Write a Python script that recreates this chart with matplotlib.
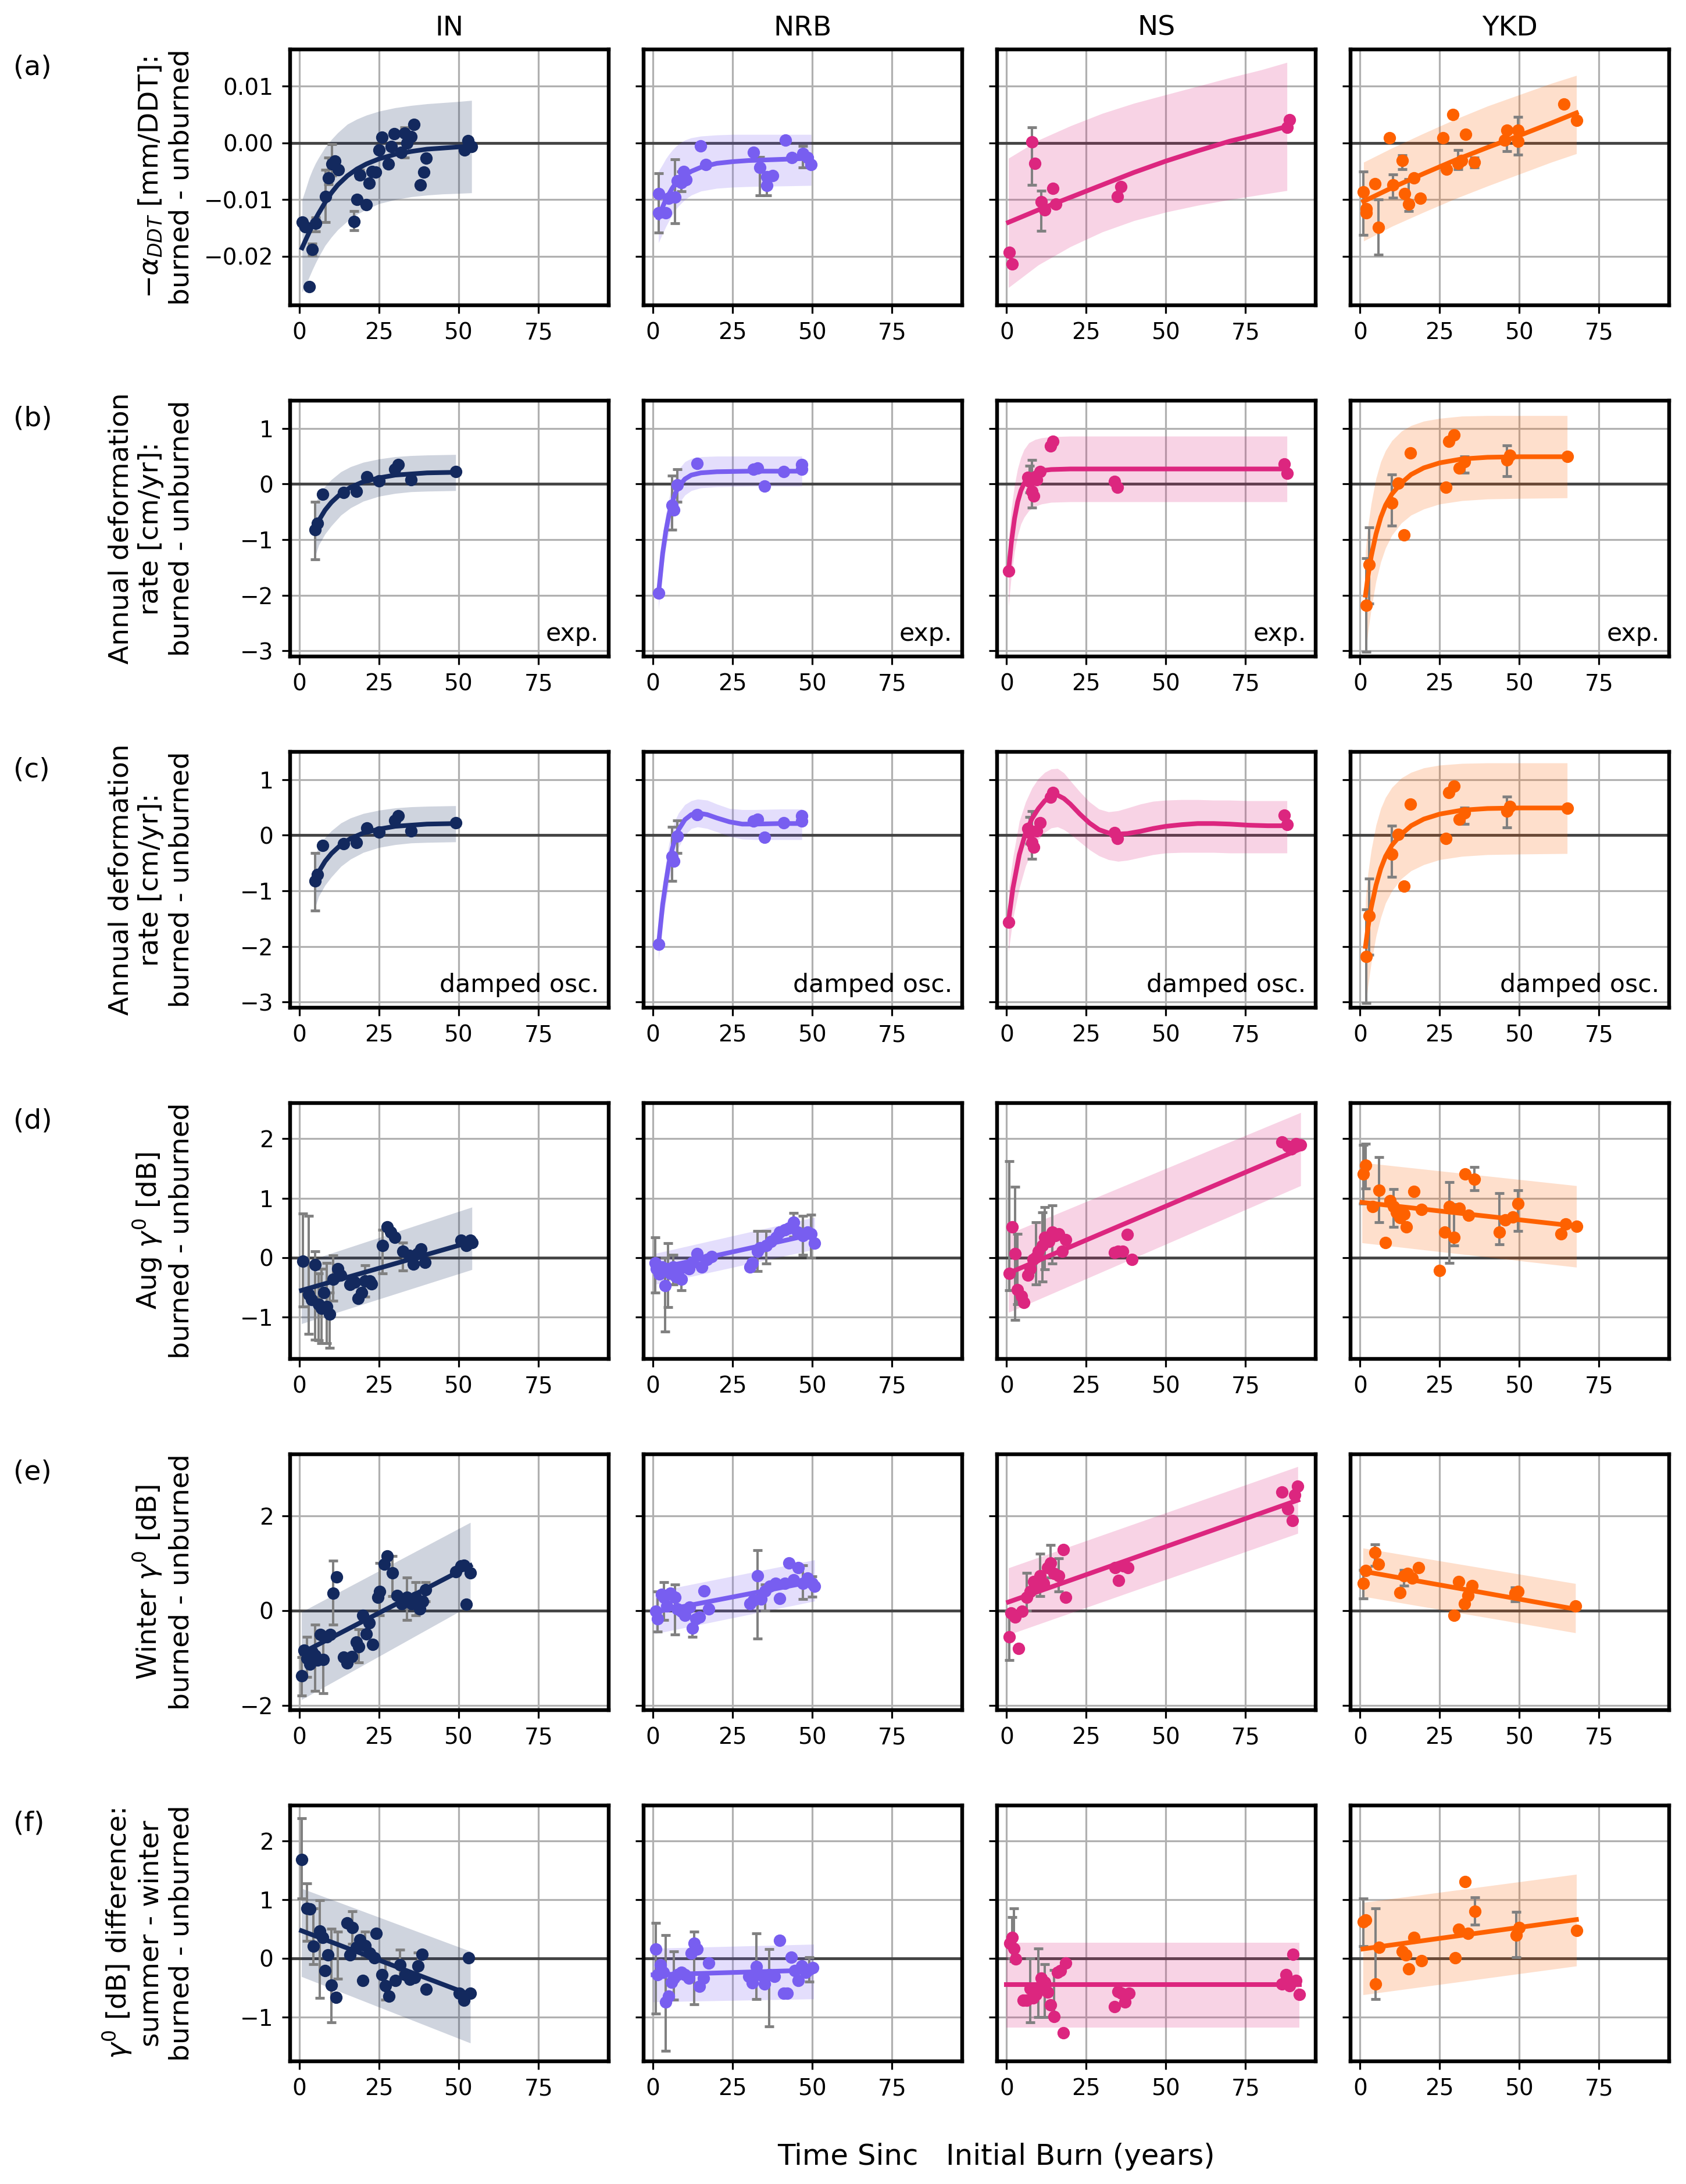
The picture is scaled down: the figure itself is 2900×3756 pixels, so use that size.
import numpy as np
import matplotlib.pyplot as plt
from matplotlib.transforms import blended_transform_factory

sites = ["IN", "NRB", "NS", "YKD"]
colors = {"IN": "#13295e", "NRB": "#785ef0", "NS": "#dc267f", "YKD": "#fe6100"}
rows = ["a", "b", "c", "d", "e", "f"]
ylabels = [r"$-\alpha_{DDT}$ [mm/DDT]:" + "\nburned - unburned",
           "Annual deformation\nrate [cm/yr]:\nburned - unburned",
           "Annual deformation\nrate [cm/yr]:\nburned - unburned",
           r"Aug $\gamma^0$ [dB]" + "\nburned - unburned",
           r"Winter $\gamma^0$ [dB]" + "\nburned - unburned",
           r"$\gamma^0$ [dB] difference:" + "\nsummer - winter\nburned - unburned"]
yticks = [[-0.02, -0.01, 0.0, 0.01], [-3, -2, -1, 0, 1], [-3, -2, -1, 0, 1],
          [-1, 0, 1, 2], [-2, 0, 2], [-1, 0, 1, 2]]
ylims = [(-0.0286, 0.0165), (-3.1, 1.5), (-3.1, 1.5), (-1.7, 2.6), (-2.1, 3.3), (-1.75, 2.6)]
notes = [None, "exp.", "damped osc.", None, None, None]
xlabel = "Time Sinc   Initial Burn (years)"

# ---- row (a): -alpha_DDT ----
a_IN_t = [0.8, 1.8, 3.1, 4.0, 5.0, 8.2, 9.1, 10.1, 11.0, 12.1, 17.1, 18.1, 19.0, 21.0, 21.9, 22.8, 23.8,
          25.0, 25.9, 27.9, 28.8, 29.7, 31.9, 32.9, 33.8, 34.9, 35.9, 37.9, 39.0, 39.7, 51.8, 52.8, 54.0]
a_IN_v = [-0.0140, -0.0148, -0.0253, -0.0188, -0.0142, -0.0095, -0.0062, -0.0037, -0.0032, -0.0047,
          -0.0139, -0.0100, -0.0057, -0.0109, -0.0071, -0.0050, -0.0051, -0.0013, 0.0010, -0.0037,
          -0.0006, 0.0016, -0.0017, 0.0017, 0.0000, 0.0011, 0.0033, -0.0074, -0.0051, -0.0027,
          -0.0013, 0.0004, -0.0006]
a_IN_err = [(4.0, -0.0198, -0.0178), (5.0, -0.0156, -0.0131), (8.2, -0.0140, -0.0047),
            (9.1, -0.0073, -0.0026), (10.1, -0.0058, -0.0002), (17.1, -0.0154, -0.0120),
            (19.0, -0.0063, -0.0047), (32.9, -0.0026, 0.0028)]
a_IN_ft = [0.8, 2, 3, 4, 5, 6, 8, 10, 12, 15, 18, 21, 25, 30, 35, 40, 45, 50, 54]
a_IN_fv = [-0.0185, -0.0170, -0.0158, -0.0146, -0.0134, -0.0124, -0.0105, -0.0088, -0.0074, -0.0058,
           -0.0046, -0.0037, -0.0028, -0.0020, -0.0015, -0.0011, -0.0009, -0.0007, -0.0006]
a_IN_hi = [-0.0100, -0.0080, -0.0062, -0.0048, -0.0036, -0.0026, -0.0008, 0.0006, 0.0018, 0.0033,
           0.0042, 0.0049, 0.0056, 0.0062, 0.0066, 0.0069, 0.0071, 0.0073, 0.0075]
a_IN_lo = [-0.0263, -0.0250, -0.0237, -0.0224, -0.0212, -0.0201, -0.0181, -0.0166, -0.0153, -0.0138,
           -0.0126, -0.0117, -0.0107, -0.0100, -0.0095, -0.0092, -0.0090, -0.0089, -0.0088]

a_NRB_t = [1.7, 1.7, 4.0, 4.9, 6.9, 7.7, 8.9, 9.7, 10.3, 14.9, 16.6, 31.5, 33.5, 35.8, 35.8, 37.5,
           41.5, 43.6, 47.0, 48.4, 49.6]
a_NRB_v = [-0.0089, -0.0123, -0.0123, -0.0098, -0.0096, -0.0067, -0.0070, -0.0050, -0.0065, -0.0005,
           -0.0038, -0.0017, -0.0043, -0.0060, -0.0075, -0.0058, 0.0005, -0.0026, -0.0019, -0.0026,
           -0.0038]
a_NRB_err = [(1.7, -0.0158, -0.0053), (6.9, -0.0142, -0.0029), (8.9, -0.0085, -0.0050),
             (33.5, -0.0092, -0.0025), (35.8, -0.0092, -0.0060), (47.0, -0.0043, -0.0005)]
a_NRB_ft = [1.7, 3, 4, 5, 6, 7, 8, 10, 12, 15, 20, 25, 30, 40, 49.6]
a_NRB_fv = [-0.0132, -0.0113, -0.0100, -0.0090, -0.0080, -0.0072, -0.0066, -0.0057, -0.0050, -0.0043,
            -0.0036, -0.0033, -0.0031, -0.0029, -0.0027]
a_NRB_hi = [-0.0050, -0.0038, -0.0028, -0.0020, -0.0013, -0.0007, -0.0002, 0.0005, 0.0009, 0.0012,
            0.0014, 0.0015, 0.0015, 0.0015, 0.0015]
a_NRB_lo = [-0.0176, -0.0160, -0.0148, -0.0137, -0.0127, -0.0118, -0.0111, -0.0100, -0.0092, -0.0085,
            -0.0080, -0.0078, -0.0077, -0.0076, -0.0075]

a_NS_t = [0.9, 1.7, 8.0, 8.9, 10.9, 12.0, 14.6, 15.5, 34.7, 35.8, 88.0, 88.8]
a_NS_v = [-0.0193, -0.0213, 0.0002, -0.0036, -0.0104, -0.0118, -0.0080, -0.0108, -0.0094, -0.0077,
          0.0027, 0.0041]
a_NS_err = [(8.0, -0.0074, 0.0028), (10.9, -0.0155, -0.0084)]
a_NS_ft = [0.6, 10, 20, 30, 40, 50, 60, 70, 80, 88]
a_NS_fv = [-0.0140, -0.0118, -0.0096, -0.0074, -0.0052, -0.0032, -0.0014, 0.0003, 0.0017, 0.0029]
a_NS_hi = [-0.0027, 0.0005, 0.0030, 0.0052, 0.0070, 0.0085, 0.0100, 0.0115, 0.0129, 0.0142]
a_NS_lo = [-0.0255, -0.0215, -0.0183, -0.0157, -0.0137, -0.0122, -0.0110, -0.0100, -0.0091, -0.0084]

a_YKD_t = [1.1, 2.0, 2.0, 4.6, 5.7, 9.2, 10.3, 13.2, 14.0, 15.2, 16.9, 18.9, 26.1, 27.2, 29.2, 30.7,
           31.8, 33.2, 35.8, 45.3, 46.1, 49.6, 49.6, 63.9, 67.9]
a_YKD_v = [-0.0086, -0.0116, -0.0123, -0.0072, -0.0149, 0.0009, -0.0074, -0.0031, -0.0089, -0.0108,
           -0.0062, -0.0098, 0.0009, -0.0046, 0.0050, -0.0036, -0.0031, 0.0015, -0.0034, 0.0005,
           0.0022, 0.0003, 0.0022, 0.0069, 0.0040]
a_YKD_err = [(1.1, -0.0162, -0.0050), (5.7, -0.0197, -0.0100), (10.3, -0.0097, -0.0056),
             (13.2, -0.0046, -0.0022), (15.2, -0.0120, -0.0064), (30.7, -0.0046, -0.0012),
             (35.8, -0.0043, -0.0026), (46.1, -0.0015, 0.0022), (49.6, -0.0021, 0.0046)]
a_YKD_ft = [1.1, 10, 20, 30, 40, 50, 60, 67.9]
a_YKD_fv = [-0.0103, -0.0079, -0.0054, -0.0030, -0.0008, 0.0013, 0.0035, 0.0053]
a_YKD_hi = [-0.0034, -0.0009, 0.0017, 0.0042, 0.0065, 0.0085, 0.0105, 0.0119]
a_YKD_lo = [-0.0173, -0.0147, -0.0122, -0.0098, -0.0076, -0.0055, -0.0034, -0.0019]

# ---- rows (b) and (c): annual deformation rate ----
b_IN_t = [4.9, 5.7, 7.2, 13.8, 17.8, 21.2, 24.9, 29.8, 30.9, 35.0, 49.0]
b_IN_v = [-0.82, -0.71, -0.18, -0.15, -0.13, 0.13, 0.06, 0.27, 0.35, 0.08, 0.22]
b_IN_err = [(4.9, -1.36, -0.32)]
b_IN_ft = [4.9, 6, 8, 10, 13, 16, 20, 25, 30, 35, 40, 49]
b_IN_fv = [-0.82, -0.66, -0.47, -0.33, -0.17, -0.06, 0.04, 0.11, 0.16, 0.18, 0.20, 0.21]
b_IN_hi = [-0.35, -0.22, -0.04, 0.08, 0.22, 0.31, 0.39, 0.45, 0.49, 0.51, 0.52, 0.53]
b_IN_lo = [-1.30, -1.10, -0.90, -0.75, -0.56, -0.43, -0.31, -0.22, -0.17, -0.14, -0.13, -0.12]

b_NRB_t = [1.7, 6.0, 6.6, 7.7, 13.8, 31.5, 32.7, 34.9, 41.0, 46.7, 46.7]
b_NRB_v = [-1.96, -0.38, -0.47, -0.02, 0.37, 0.26, 0.29, -0.04, 0.22, 0.35, 0.26]
b_NRB_err = [(6.0, -0.82, 0.15), (7.7, -0.32, 0.27)]
b_NRB_ft = [1.7, 3, 4, 5, 6, 7, 8, 10, 12, 15, 20, 30, 46.7]
b_NRB_fv = [-1.98, -1.25, -0.85, -0.55, -0.33, -0.17, -0.05, 0.09, 0.16, 0.20, 0.22, 0.23, 0.23]
b_NRB_hi = [-1.70, -0.95, -0.55, -0.25, -0.02, 0.14, 0.26, 0.40, 0.46, 0.49, 0.50, 0.50, 0.50]
b_NRB_lo = [-2.25, -1.55, -1.15, -0.85, -0.64, -0.48, -0.36, -0.20, -0.12, -0.07, -0.05, -0.04, -0.04]

b_NS_t = [0.6, 6.6, 7.2, 8.0, 8.6, 9.5, 10.6, 13.8, 14.6, 33.8, 34.7, 87.1, 88.0]
b_NS_v = [-1.56, 0.12, 0.05, -0.13, -0.22, 0.08, 0.22, 0.68, 0.77, 0.05, -0.06, 0.36, 0.19]
b_NS_err = [(8.0, -0.43, 0.43), (7.2, -0.15, 0.33)]
b_NS_ft = [0.6, 1.5, 2.5, 3.5, 4.5, 5.5, 7, 9, 11, 14, 20, 40, 88]
b_NS_fv = [-1.58, -1.05, -0.62, -0.32, -0.12, 0.01, 0.13, 0.20, 0.24, 0.26, 0.27, 0.27, 0.27]
b_NS_hi = [-1.00, -0.45, -0.02, 0.28, 0.48, 0.62, 0.74, 0.80, 0.83, 0.85, 0.86, 0.86, 0.86]
b_NS_lo = [-2.20, -1.65, -1.22, -0.92, -0.72, -0.60, -0.48, -0.40, -0.36, -0.33, -0.32, -0.32, -0.32]

b_YKD_t = [2.0, 2.9, 10.0, 12.0, 13.8, 15.8, 26.9, 27.8, 29.5, 31.2, 32.7, 46.1, 47.0, 65.0]
b_YKD_v = [-2.18, -1.45, -0.34, 0.01, -0.92, 0.56, -0.06, 0.77, 0.88, 0.29, 0.40, 0.43, 0.52, 0.49]
b_YKD_err = [(2.0, -3.02, -1.33), (2.9, -2.15, -0.78), (10.0, -0.75, 0.17), (32.7, 0.20, 0.50),
             (46.1, 0.14, 0.69)]
b_YKD_ft = [1.7, 2.5, 3.5, 5, 6.5, 8, 10, 13, 16, 20, 25, 32, 40, 50, 65]
b_YKD_fv = [-2.00, -1.65, -1.30, -0.90, -0.60, -0.38, -0.18, 0.02, 0.17, 0.29, 0.38, 0.45, 0.48, 0.49, 0.49]
b_YKD_hi = [-1.20, -0.75, -0.35, 0.10, 0.40, 0.60, 0.78, 0.95, 1.05, 1.13, 1.18, 1.22, 1.23, 1.23, 1.23]
b_YKD_lo = [-3.10, -2.65, -2.25, -1.75, -1.40, -1.15, -0.92, -0.70, -0.56, -0.45, -0.36, -0.30, -0.27,
            -0.26, -0.25]

c_NRB_ft = [1.7, 3, 4, 5, 6, 7, 8, 10, 12, 14, 17, 20, 24, 28, 32, 40, 46.7]
c_NRB_fv = [-1.98, -1.25, -0.85, -0.50, -0.25, -0.05, 0.10, 0.28, 0.37, 0.40, 0.37, 0.31, 0.24, 0.20,
            0.20, 0.21, 0.21]
c_NRB_hi = [-1.70, -0.95, -0.50, -0.15, 0.10, 0.28, 0.40, 0.55, 0.62, 0.65, 0.63, 0.56, 0.48, 0.46,
            0.46, 0.47, 0.47]
c_NRB_lo = [-2.25, -1.55, -1.20, -0.85, -0.60, -0.38, -0.22, 0.00, 0.12, 0.15, 0.12, 0.06, -0.02,
            -0.07, -0.08, -0.08, -0.08]

c_NS_ft = [0.6, 2, 4, 6, 8, 10, 12, 14, 16, 18, 20, 23, 26, 29, 32, 35, 38, 42, 46, 50, 55, 60, 65,
           70, 76, 82, 88]
c_NS_fv = [-1.55, -0.95, -0.35, 0.05, 0.30, 0.48, 0.62, 0.70, 0.72, 0.66, 0.56, 0.38, 0.22, 0.10,
           0.04, 0.02, 0.03, 0.07, 0.12, 0.16, 0.19, 0.21, 0.21, 0.20, 0.18, 0.17, 0.17]
c_NS_hi = [-1.00, -0.40, 0.25, 0.60, 0.85, 1.02, 1.13, 1.19, 1.20, 1.12, 0.98, 0.78, 0.60, 0.47,
           0.42, 0.44, 0.49, 0.56, 0.61, 0.63, 0.64, 0.64, 0.63, 0.63, 0.62, 0.62, 0.62]
c_NS_lo = [-2.10, -1.50, -0.95, -0.55, -0.28, -0.08, 0.05, 0.13, 0.15, 0.10, 0.02, -0.12, -0.26,
           -0.37, -0.44, -0.47, -0.45, -0.40, -0.35, -0.32, -0.31, -0.31, -0.31, -0.32, -0.32,
           -0.32, -0.32]

c_YKD_hi = [-1.15, -0.68, -0.27, 0.18, 0.48, 0.68, 0.86, 1.03, 1.13, 1.21, 1.26, 1.29, 1.30, 1.30, 1.30]
c_YKD_lo = [-3.10, -2.70, -2.30, -1.82, -1.48, -1.22, -1.00, -0.78, -0.64, -0.53, -0.44, -0.38, -0.35,
            -0.34, -0.33]

# ---- row (d): Aug gamma0 ----
d_IN_t = [1.1, 2.9, 3.7, 4.9, 6.0, 6.9, 7.7, 8.6, 9.5, 10.6, 12.0, 12.9, 15.8, 17.2, 18.3, 19.5, 20.6,
          22.0, 22.6, 26.1, 27.5, 28.6, 29.8, 32.4, 34.4, 35.8, 37.0, 38.1, 39.3, 50.7, 52.4, 53.6, 54.1]
d_IN_v = [-0.06, -0.62, -0.70, -0.12, -0.78, -0.85, -0.59, -0.82, -0.95, -0.36, -0.19, -0.29, -0.45,
          -0.41, -0.68, -0.59, -0.39, -0.39, -0.44, 0.20, 0.52, 0.43, 0.34, 0.11, 0.04, -0.11, 0.07,
          0.15, -0.08, 0.29, 0.20, 0.29, 0.25]
d_IN_err = [(1.1, -0.82, 0.74), (2.9, -1.28, 0.70), (4.9, -1.38, 0.11), (6.0, -1.39, -0.26),
            (6.9, -1.44, -0.19), (8.6, -1.44, -0.09), (9.5, -1.52, -0.59), (10.6, -0.72, 0.04),
            (20.6, -0.66, -0.13), (26.1, -0.26, 0.47), (32.4, -0.22, 0.25)]
d_IN_ft = [0.6, 54.1]
d_IN_fv = [-0.55, 0.27]
d_IN_hi = [-0.09, 0.85]
d_IN_lo = [-1.11, -0.20]

d_NRB_t = [0.6, 1.1, 2.0, 2.9, 3.7, 4.6, 5.4, 6.3, 7.2, 8.0, 8.9, 9.7, 11.2, 12.3, 13.8, 15.2, 16.9,
           18.3, 30.4, 31.2, 32.7, 33.5, 35.5, 37.0, 38.7, 39.8, 41.3, 42.7, 44.1, 45.3, 47.0, 48.4,
           49.6, 50.7]
d_NRB_v = [-0.09, -0.19, -0.27, -0.16, -0.47, -0.19, -0.26, -0.16, -0.32, -0.22, -0.36, -0.16, -0.19,
           -0.08, 0.07, -0.16, -0.03, 0.02, -0.16, -0.09, 0.11, 0.17, 0.20, 0.27, 0.34, 0.43, 0.47,
           0.50, 0.60, 0.43, 0.37, 0.43, 0.40, 0.24]
d_NRB_err = [(0.6, -0.59, 0.34), (3.7, -1.24, 0.00), (4.6, -0.83, 0.24), (6.3, -0.45, 0.05),
             (8.9, -0.55, -0.10), (32.7, -0.23, 0.45), (35.5, -0.10, 0.45), (44.1, 0.35, 0.75),
             (47.0, 0.05, 0.70), (49.6, 0.00, 0.72)]
d_NRB_ft = [0.6, 50.7]
d_NRB_fv = [-0.19, 0.40]
d_NRB_hi = [0.07, 0.68]
d_NRB_lo = [-0.45, 0.14]

d_NS_t = [0.9, 1.7, 2.6, 3.4, 4.6, 5.4, 6.6, 7.4, 8.3, 9.2, 10.0, 11.2, 12.0, 13.2, 14.3, 15.2, 16.3,
          17.5, 18.6, 33.8, 35.0, 36.4, 37.8, 39.3, 86.5, 88.3, 89.4, 90.8, 92.3]
d_NS_v = [-0.26, 0.52, 0.07, -0.54, -0.65, -0.75, -0.29, -0.19, -0.03, 0.01, 0.11, 0.20, 0.34, 0.27,
          0.43, 0.37, 0.40, 0.11, 0.30, 0.09, 0.11, 0.11, 0.39, -0.03, 1.94, 1.88, 1.83, 1.92, 1.90]
d_NS_err = [(0.9, -0.55, 1.62), (2.6, -1.05, 1.19), (3.4, -0.78, 0.40), (9.2, -0.45, 0.60),
            (11.2, -0.40, 0.76), (12.0, -0.20, 0.85), (14.3, -0.10, 0.88)]
d_NS_ft = [0.6, 92.3]
d_NS_fv = [-0.26, 1.83]
d_NS_hi = [0.40, 2.44]
d_NS_lo = [-0.92, 1.21]

d_YKD_t = [1.1, 1.7, 4.0, 6.0, 8.0, 9.5, 10.6, 11.5, 12.6, 13.8, 14.6, 16.9, 19.2, 24.9, 26.6, 28.1,
           29.5, 31.2, 32.9, 34.0, 35.8, 43.8, 45.6, 47.9, 49.6, 63.0, 64.5, 67.9]
d_YKD_v = [1.41, 1.55, 0.86, 1.13, 0.25, 0.96, 0.86, 0.76, 0.67, 0.73, 0.52, 1.11, 0.81, -0.22, 0.43,
           0.86, 0.34, 0.83, 1.41, 0.71, 1.32, 0.43, 0.63, 0.68, 0.91, 0.40, 0.57, 0.53]
d_YKD_err = [(1.1, 0.91, 1.90), (1.7, 1.16, 1.92), (6.0, 0.60, 1.69), (10.6, 0.52, 1.15),
             (28.1, -0.09, 1.27), (29.5, 0.20, 0.90), (35.8, 1.13, 1.52), (43.8, 0.22, 1.08),
             (49.6, 0.45, 1.13)]
d_YKD_ft = [0.6, 67.9]
d_YKD_fv = [0.93, 0.53]
d_YKD_hi = [1.60, 1.21]
d_YKD_lo = [0.25, -0.16]

# ---- row (e): Winter gamma0 ----
e_IN_t = [0.6, 1.4, 2.3, 3.2, 4.0, 4.9, 5.7, 6.6, 7.4, 8.6, 9.7, 10.6, 11.7, 13.8, 14.9, 16.3, 17.8,
          18.6, 19.8, 20.9, 21.8, 22.9, 24.6, 25.2, 26.6, 27.5, 29.2, 30.7, 32.1, 33.8, 35.2, 36.4,
          37.8, 38.7, 39.5, 49.0, 50.7, 51.6, 52.4, 53.6]
e_IN_v = [-1.38, -0.84, -1.01, -1.13, -0.88, -0.95, -1.05, -0.51, -1.03, -0.55, -0.51, 0.36, 0.71,
          -0.99, -1.11, -0.97, -0.66, -0.76, -0.10, -0.49, -0.26, -0.72, 0.28, 0.40, 0.98, 1.15, 0.80,
          0.32, 0.15, 0.28, 0.15, 0.28, 0.03, 0.20, 0.44, 0.82, 0.94, 0.96, 0.13, 0.80]
e_IN_err = [(0.6, -1.80, -0.99), (2.3, -1.40, -0.55), (4.9, -1.70, -0.30), (7.4, -1.75, -0.60),
            (10.6, -0.30, 1.05), (18.6, -1.10, -0.40), (25.2, -0.10, 1.00), (29.2, 0.30, 1.15),
            (33.8, -0.20, 0.70), (36.4, -0.10, 0.60), (39.5, 0.20, 0.60)]
e_IN_ft = [0.6, 53.6]
e_IN_fv = [-0.90, 0.95]
e_IN_hi = [-0.03, 1.86]
e_IN_lo = [-1.88, 0.11]

e_NRB_t = [0.9, 1.4, 2.6, 3.4, 4.3, 5.4, 6.9, 7.7, 8.9, 10.0, 11.5, 12.3, 13.5, 14.6, 16.0, 17.5,
           30.4, 31.5, 32.7, 33.8, 35.2, 36.7, 38.4, 39.8, 41.3, 42.7, 44.1, 45.6, 47.0, 48.4, 49.9,
           50.7]
e_NRB_v = [-0.01, -0.18, 0.34, 0.28, 0.09, 0.36, 0.28, 0.03, -0.01, -0.10, 0.07, -0.37, -0.18, -0.14,
           0.42, 0.03, 0.15, 0.22, 0.73, 0.24, 0.42, 0.51, 0.57, 0.26, 0.57, 1.00, 0.65, 0.90, 0.57,
           0.69, 0.57, 0.51]
e_NRB_err = [(1.4, -0.45, 0.40), (3.4, -0.20, 0.60), (6.9, -0.50, 0.55), (12.3, -0.55, -0.15),
             (32.7, -0.59, 1.27), (35.2, 0.00, 0.55), (47.0, 0.24, 0.96), (49.9, 0.29, 0.72)]
e_NRB_ft = [0.6, 50.7]
e_NRB_fv = [-0.03, 0.62]
e_NRB_hi = [0.40, 1.07]
e_NRB_lo = [-0.49, 0.20]

e_NS_t = [0.9, 1.4, 2.6, 3.7, 4.9, 6.3, 7.4, 8.6, 9.7, 10.6, 11.7, 12.9, 13.8, 14.9, 16.3, 17.8, 18.6,
          34.1, 35.2, 36.7, 38.1, 86.5, 88.3, 89.7, 90.5, 91.4]
e_NS_v = [-0.55, -0.05, -0.14, -0.80, -0.01, 0.28, 0.40, 0.61, 0.53, 0.73, 0.57, 0.90, 1.00, 0.78,
          0.73, 1.29, 0.28, 0.90, 0.63, 0.94, 0.90, 2.50, 2.15, 1.90, 2.44, 2.62]
e_NS_err = [(0.9, -1.05, -0.01), (6.3, 0.00, 0.80), (10.6, 0.30, 1.20), (13.8, 0.70, 1.38),
            (16.3, 0.40, 1.10)]
e_NS_ft = [0.6, 91.4]
e_NS_fv = [0.18, 2.33]
e_NS_hi = [0.90, 3.04]
e_NS_lo = [-0.51, 1.63]

e_YKD_t = [1.1, 1.7, 4.6, 5.7, 12.6, 13.8, 14.9, 16.3, 18.3, 29.5, 30.9, 32.7, 33.8, 35.2, 48.7, 49.6,
           67.6]
e_YKD_v = [0.57, 0.84, 1.23, 0.98, 0.38, 0.73, 0.78, 0.69, 0.90, -0.10, 0.61, 0.15, 0.32, 0.53, 0.36,
           0.40, 0.09]
e_YKD_err = [(1.1, 0.26, 0.86), (4.6, 0.94, 1.40), (13.8, 0.53, 0.86), (48.7, 0.20, 0.49)]
e_YKD_ft = [0.9, 67.6]
e_YKD_fv = [0.83, 0.03]
e_YKD_hi = [1.32, 0.57]
e_YKD_lo = [0.30, -0.47]

# ---- row (f): summer - winter gamma0 ----
f_IN_t = [0.6, 2.3, 3.2, 4.3, 6.3, 7.2, 8.0, 8.9, 10.0, 11.5, 14.9, 15.8, 16.6, 17.8, 18.9, 19.8, 20.6,
          22.1, 23.5, 24.0, 25.8, 26.9, 28.1, 30.1, 31.5, 33.2, 34.7, 36.1, 37.2, 38.4, 39.8, 50.1,
          51.6, 53.0, 53.6]
f_IN_v = [1.68, 0.85, 0.84, 0.21, 0.46, 0.36, -0.21, 0.06, -0.46, -0.66, 0.60, 0.06, 0.52, 0.19, 0.32,
          -0.38, 0.22, 0.09, 0.01, 0.42, -0.28, -0.47, -0.64, -0.38, -0.11, -0.28, -0.36, -0.33, -0.13,
          0.07, -0.52, -0.59, -0.71, 0.01, -0.59]
f_IN_err = [(0.6, 1.02, 2.38), (2.3, 0.30, 1.27), (4.3, -0.10, 0.85), (6.3, -0.67, 0.99),
            (10.0, -1.09, 0.50), (12.0, -0.35, 0.45), (16.6, 0.25, 0.80), (20.6, 0.05, 0.45),
            (26.9, -0.70, -0.05), (31.5, -0.35, 0.15), (37.2, -0.30, 0.10)]
f_IN_ft = [0.6, 53.6]
f_IN_fv = [0.47, -0.62]
f_IN_hi = [1.19, 0.12]
f_IN_lo = [-0.31, -1.44]

f_NRB_t = [0.9, 1.4, 2.3, 3.2, 4.0, 4.9, 5.7, 6.6, 7.7, 8.9, 10.0, 11.2, 12.0, 12.9, 13.8, 14.6, 15.8,
           17.5, 30.1, 31.2, 32.4, 33.5, 35.0, 36.4, 38.1, 39.8, 41.0, 42.1, 43.3, 44.4, 45.6, 46.7,
           47.9, 49.0, 50.1]
f_NRB_v = [0.16, -0.28, -0.11, -0.24, -0.74, -0.64, -0.41, -0.34, -0.28, -0.24, -0.28, -0.34, 0.09,
           0.26, 0.16, -0.48, -0.34, -0.08, -0.31, -0.42, -0.14, -0.28, -0.44, -0.28, -0.31, 0.31,
           -0.59, -0.59, 0.02, -0.21, -0.38, -0.13, -0.24, -0.19, -0.16]
f_NRB_err = [(0.9, -0.94, 0.60), (4.0, -1.57, 0.39), (6.6, -0.70, 0.12), (12.9, -0.78, 0.45),
             (32.4, -0.69, 0.42), (36.4, -1.16, 0.16), (49.0, -0.40, 0.02)]
f_NRB_ft = [0.0, 50.4]
f_NRB_fv = [-0.28, -0.20]
f_NRB_hi = [0.17, 0.24]
f_NRB_lo = [-0.74, -0.69]

f_NS_t = [1.1, 1.7, 2.3, 2.9, 5.2, 6.3, 7.4, 8.3, 9.2, 10.0, 10.9, 12.0, 12.9, 13.8, 14.9, 16.0, 16.9,
          17.8, 18.6, 33.8, 35.0, 36.1, 37.2, 38.4, 86.5, 87.7, 88.8, 89.9, 90.8, 91.9]
f_NS_v = [0.26, 0.36, 0.17, -0.01, -0.71, -0.71, -0.51, -0.67, -0.61, -0.54, -0.34, -0.41, -0.57,
          -0.79, -0.99, -0.24, -0.21, -1.27, -0.08, -0.82, -0.56, -0.59, -0.74, -0.59, -0.44, -0.28,
          -0.47, 0.07, -0.38, -0.61]
f_NS_err = [(2.3, -0.05, 0.85), (1.7, 0.00, 0.70), (7.4, -1.09, 0.00), (10.0, -1.00, 0.17),
            (12.0, -1.00, -0.10), (14.9, -0.95, -0.20)]
f_NS_ft = [0.0, 91.9]
f_NS_fv = [-0.45, -0.45]
f_NS_hi = [0.27, 0.27]
f_NS_lo = [-1.18, -1.18]

f_YKD_t = [1.1, 1.7, 4.9, 6.0, 13.2, 14.3, 15.2, 16.9, 19.2, 29.8, 30.9, 33.0, 33.8, 36.1, 49.0, 49.9,
           67.9]
f_YKD_v = [0.62, 0.65, -0.44, 0.19, 0.12, 0.06, -0.18, 0.36, -0.04, 0.01, 0.49, 1.30, 0.42, 0.80, 0.39,
           0.52, 0.47]
f_YKD_err = [(1.1, 0.21, 1.02), (4.9, -0.69, 0.85), (36.1, 0.57, 1.04), (49.0, 0.02, 0.79)]
f_YKD_ft = [0.9, 67.9]
f_YKD_fv = [0.16, 0.66]
f_YKD_hi = [0.95, 1.43]
f_YKD_lo = [-0.62, -0.13]

# table of panels: (points t, points v, error bars, fit t, fit v, band hi, band lo)
panels = {
    ("a", "IN"): (a_IN_t, a_IN_v, a_IN_err, a_IN_ft, a_IN_fv, a_IN_hi, a_IN_lo),
    ("a", "NRB"): (a_NRB_t, a_NRB_v, a_NRB_err, a_NRB_ft, a_NRB_fv, a_NRB_hi, a_NRB_lo),
    ("a", "NS"): (a_NS_t, a_NS_v, a_NS_err, a_NS_ft, a_NS_fv, a_NS_hi, a_NS_lo),
    ("a", "YKD"): (a_YKD_t, a_YKD_v, a_YKD_err, a_YKD_ft, a_YKD_fv, a_YKD_hi, a_YKD_lo),
    ("b", "IN"): (b_IN_t, b_IN_v, b_IN_err, b_IN_ft, b_IN_fv, b_IN_hi, b_IN_lo),
    ("b", "NRB"): (b_NRB_t, b_NRB_v, b_NRB_err, b_NRB_ft, b_NRB_fv, b_NRB_hi, b_NRB_lo),
    ("b", "NS"): (b_NS_t, b_NS_v, b_NS_err, b_NS_ft, b_NS_fv, b_NS_hi, b_NS_lo),
    ("b", "YKD"): (b_YKD_t, b_YKD_v, b_YKD_err, b_YKD_ft, b_YKD_fv, b_YKD_hi, b_YKD_lo),
    ("c", "IN"): (b_IN_t, b_IN_v, b_IN_err, b_IN_ft, b_IN_fv, b_IN_hi, b_IN_lo),
    ("c", "NRB"): (b_NRB_t, b_NRB_v, b_NRB_err, c_NRB_ft, c_NRB_fv, c_NRB_hi, c_NRB_lo),
    ("c", "NS"): (b_NS_t, b_NS_v, b_NS_err, c_NS_ft, c_NS_fv, c_NS_hi, c_NS_lo),
    ("c", "YKD"): (b_YKD_t, b_YKD_v, b_YKD_err, b_YKD_ft, b_YKD_fv, c_YKD_hi, c_YKD_lo),
    ("d", "IN"): (d_IN_t, d_IN_v, d_IN_err, d_IN_ft, d_IN_fv, d_IN_hi, d_IN_lo),
    ("d", "NRB"): (d_NRB_t, d_NRB_v, d_NRB_err, d_NRB_ft, d_NRB_fv, d_NRB_hi, d_NRB_lo),
    ("d", "NS"): (d_NS_t, d_NS_v, d_NS_err, d_NS_ft, d_NS_fv, d_NS_hi, d_NS_lo),
    ("d", "YKD"): (d_YKD_t, d_YKD_v, d_YKD_err, d_YKD_ft, d_YKD_fv, d_YKD_hi, d_YKD_lo),
    ("e", "IN"): (e_IN_t, e_IN_v, e_IN_err, e_IN_ft, e_IN_fv, e_IN_hi, e_IN_lo),
    ("e", "NRB"): (e_NRB_t, e_NRB_v, e_NRB_err, e_NRB_ft, e_NRB_fv, e_NRB_hi, e_NRB_lo),
    ("e", "NS"): (e_NS_t, e_NS_v, e_NS_err, e_NS_ft, e_NS_fv, e_NS_hi, e_NS_lo),
    ("e", "YKD"): (e_YKD_t, e_YKD_v, e_YKD_err, e_YKD_ft, e_YKD_fv, e_YKD_hi, e_YKD_lo),
    ("f", "IN"): (f_IN_t, f_IN_v, f_IN_err, f_IN_ft, f_IN_fv, f_IN_hi, f_IN_lo),
    ("f", "NRB"): (f_NRB_t, f_NRB_v, f_NRB_err, f_NRB_ft, f_NRB_fv, f_NRB_hi, f_NRB_lo),
    ("f", "NS"): (f_NS_t, f_NS_v, f_NS_err, f_NS_ft, f_NS_fv, f_NS_hi, f_NS_lo),
    ("f", "YKD"): (f_YKD_t, f_YKD_v, f_YKD_err, f_YKD_ft, f_YKD_fv, f_YKD_hi, f_YKD_lo),
}

fig, axes = plt.subplots(6, 4, figsize=(10, 12.9518), dpi=290, sharey="row")
plt.subplots_adjust(left=0.172, right=0.990, top=0.9774, bottom=0.0562, wspace=0.1095, hspace=0.373)

for i, r in enumerate(rows):
    for j, s in enumerate(sites):
        ax = axes[i, j]
        c = colors[s]
        t, v, err, ft, fv, hi, lo = panels[(r, s)]

        ax.grid(True, color="#b0b0b0", linewidth=0.8)
        ax.set_axisbelow(True)
        ax.axhline(0, color="#444444", linewidth=1.2, zorder=1)
        ax.fill_between(ft, lo, hi, color=c, alpha=0.2, linewidth=0, zorder=1.2)

        if err:
            ex = np.array([e[0] for e in err])
            elo = np.array([e[1] for e in err])
            ehi = np.array([e[2] for e in err])
            ax.errorbar(ex, (elo + ehi) / 2, yerr=(ehi - elo) / 2, fmt="none", ecolor="gray",
                        elinewidth=1, capsize=2, capthick=1.2, zorder=2)

        ax.plot(t, v, "o", color=c, markersize=4.3, zorder=3)
        ax.plot(ft, fv, color=c, linewidth=2, zorder=4)

        ax.set_xlim(-3, 97)
        ax.set_xticks([0, 25, 50, 75])
        ax.set_ylim(*ylims[i])
        ax.set_yticks(yticks[i])
        ax.tick_params(labelsize=9.7)
        for sp in ax.spines.values():
            sp.set_linewidth(1.6)

        if notes[i]:
            ax.text(0.97, 0.04, notes[i], transform=ax.transAxes, ha="right", va="bottom", fontsize=10.6)
        if i == 0:
            ax.set_title(s, fontsize=11.7)

    ax0 = axes[i, 0]
    ax0.set_ylabel(ylabels[i], fontsize=11.7)
    ax0.yaxis.set_label_coords(-0.30, 0.5)
    trans = blended_transform_factory(fig.transFigure, ax0.transAxes)
    ax0.text(0.008, 0.93, "(" + r + ")", transform=trans, ha="left", va="center", fontsize=11.7)

fig.text(0.591, 0.0125, xlabel, ha="center", va="center", fontsize=12.4)

plt.savefig("out.png", dpi=290)
